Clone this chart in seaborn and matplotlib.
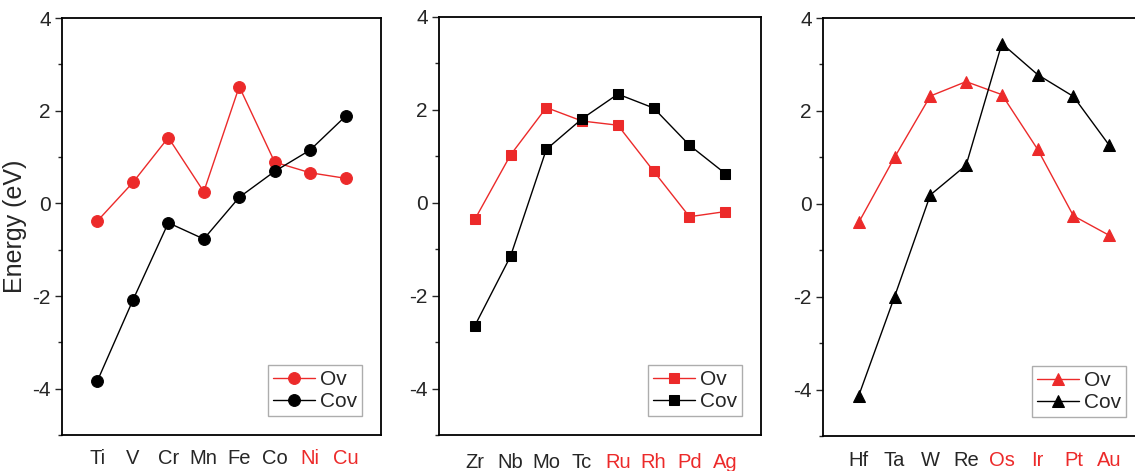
import numpy as np
import pandas as pd
import seaborn as sns
import matplotlib.pyplot as plt
from matplotlib.ticker import MultipleLocator

# element labels for the three panels
elem_3d = ["Ti", "V", "Cr", "Mn", "Fe", "Co", "Ni", "Cu"]
elem_4d = ["Zr", "Nb", "Mo", "Tc", "Ru", "Rh", "Pd", "Ag"]
elem_5d = ["Hf", "Ta", "W", "Re", "Os", "Ir", "Pt", "Au"]

# energies (eV)
ov_3d = [-0.38, 0.45, 1.42, 0.25, 2.52, 0.89, 0.66, 0.54]
cov_3d = [-3.83, -2.09, -0.42, -0.77, 0.13, 0.69, 1.15, 1.88]
ov_4d = [-0.36, 1.03, 2.05, 1.76, 1.67, 0.68, -0.30, -0.19]
cov_4d = [-2.65, -1.15, 1.15, 1.81, 2.34, 2.04, 1.24, 0.63]
ov_5d = [-0.40, 1.00, 2.32, 2.63, 2.35, 1.17, -0.26, -0.68]
cov_5d = [-4.13, -2.00, 0.19, 0.83, 3.45, 2.78, 2.31, 1.26]

# which tick labels are printed in red
red_labels = ["Ni", "Cu", "Ru", "Rh", "Pd", "Ag", "Os", "Ir", "Pt", "Au"]

sns.set_style("white")
plt.rcParams["font.family"] = ["Liberation Sans", "DejaVu Sans"]
plt.rcParams["axes.unicode_minus"] = False

RED = "#ec2a2a"
BLACK = "#000000"

fig = plt.figure(figsize=(11.35, 4.71), dpi=100)
# axes placed to match the reference (third panel runs past the right edge)
rects = [
    [62 / 1135, 36 / 471, 319 / 1135, 417 / 471],
    [439 / 1135, 36 / 471, 322 / 1135, 418 / 471],
    [823 / 1135, 35 / 471, 322 / 1135, 418 / 471],
]
panels = [
    (elem_3d, ov_3d, cov_3d, "o", 8.5, 10),
    (elem_4d, ov_4d, cov_4d, "s", 7.5, 13),
    (elem_5d, ov_5d, cov_5d, "^", 8.5, 11),
]

for i, (elems, ov, cov, mk, ms, xpad) in enumerate(panels):
    ax = fig.add_axes(rects[i])
    pos = np.arange(1, len(elems) + 1)
    df = pd.DataFrame({"pos": pos, "Ov": ov, "Cov": cov})
    sns.lineplot(data=df, x="pos", y="Ov", ax=ax, color=RED, marker=mk,
                 markersize=ms, markeredgecolor=RED, linewidth=1.0, label="Ov")
    sns.lineplot(data=df, x="pos", y="Cov", ax=ax, color=BLACK, marker=mk,
                 markersize=ms, markeredgecolor=BLACK, linewidth=1.0, label="Cov")

    ax.set_xlim(0, 9)
    ax.set_ylim(-5, 4)
    ax.set_xticks(pos)
    ax.set_xticklabels(elems)
    ax.yaxis.set_major_locator(MultipleLocator(2))
    ax.yaxis.set_minor_locator(MultipleLocator(1))
    ax.set_yticks([-4, -2, 0, 2, 4])
    for lab in ax.get_xticklabels():
        if lab.get_text() in red_labels:
            lab.set_color(RED)
    ax.tick_params(axis="x", direction="in", length=5, width=1.0,
                   labelsize=14.5, pad=xpad)
    ax.tick_params(axis="y", which="major", direction="out", length=5,
                   width=1.0, labelsize=15, pad=3, left=True)
    ax.tick_params(axis="y", which="minor", direction="out", length=3,
                   width=1.0, left=True)
    for sp in ax.spines.values():
        sp.set_visible(True)
        sp.set_color("black")
        sp.set_linewidth(1.3)

    ax.set_xlabel("")
    if i == 0:
        ax.set_ylabel("Energy (eV)", fontsize=18, labelpad=4)
    else:
        ax.set_ylabel("")

    leg = ax.legend(loc="lower right", fontsize=15, handlelength=2.0,
                    frameon=True, fancybox=False, borderaxespad=0.9,
                    borderpad=0.25, labelspacing=0.15, handletextpad=0.25)
    leg.get_frame().set_edgecolor("#999999")
    leg.get_frame().set_linewidth(1.0)

fig.savefig("out.png", dpi=100)
